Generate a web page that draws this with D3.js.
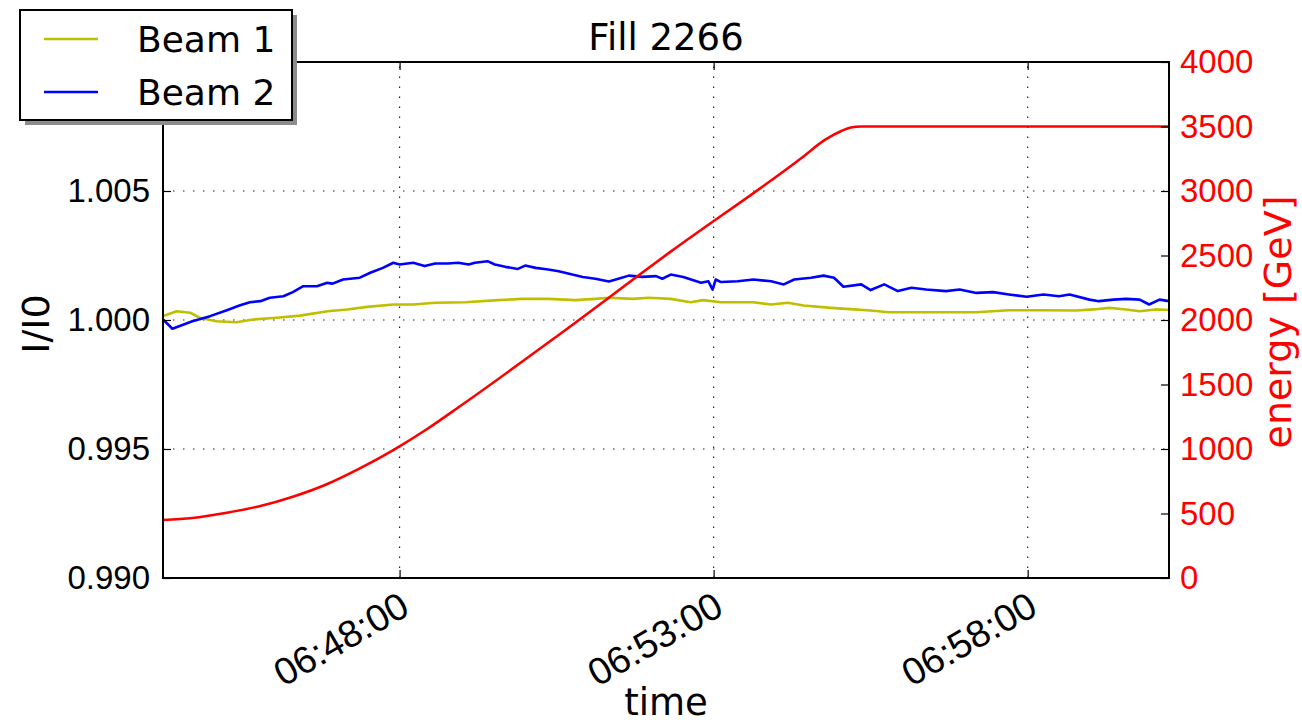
<!DOCTYPE html>
<html>
<head>
<meta charset="utf-8">
<script src="https://cdn.jsdelivr.net/npm/d3@7"></script>
<style>
  html, body { margin: 0; padding: 0; background: #fff; }
  svg { display: block; font-family: "DejaVu Sans", sans-serif; }
</style>
</head>
<body>
<svg id="chart" width="1302" height="725"></svg>
<script>
// ---- data ----
const title = "Fill 2266";
const timeDomain = ["06:44:14", "07:00:15"];
const timeTicks = ["06:48:00", "06:53:00", "06:58:00"];
const ratioTicks = [0.990, 0.995, 1.000, 1.005, 1.010];
const energyTicks = [0, 500, 1000, 1500, 2000, 2500, 3000, 3500, 4000];

const beam1Time = ["06:44:14","06:44:27","06:44:40","06:44:49","06:45:05","06:45:24","06:45:40","06:46:03","06:46:25","06:46:51","06:47:10","06:47:29","06:47:54","06:48:13","06:48:34","06:49:03","06:49:34","06:49:57","06:50:22","06:50:48","06:51:07","06:51:20","06:51:43","06:51:58","06:52:19","06:52:38","06:52:50","06:53:07","06:53:38","06:53:55","06:54:11","06:54:26","06:54:52","06:55:14","06:55:30","06:55:47","06:56:23","06:56:55","06:57:11","06:57:42","06:58:15","06:58:46","06:59:03","06:59:18","06:59:34","06:59:47","07:00:02","07:00:15"];
const beam1Ratio = [1.00015,1.00034,1.00028,1.00009,0.99995,0.99991,1.00002,1.00009,1.00017,1.00034,1.00041,1.00051,1.00060,1.00060,1.00067,1.00069,1.00077,1.00082,1.00082,1.00077,1.00082,1.00086,1.00082,1.00086,1.00082,1.00069,1.00077,1.00069,1.00069,1.00060,1.00067,1.00056,1.00047,1.00041,1.00037,1.00030,1.00030,1.00030,1.00030,1.00038,1.00038,1.00037,1.00041,1.00047,1.00041,1.00034,1.00041,1.00039];

const beam2Time = ["06:44:14","06:44:23","06:44:42","06:44:59","06:45:15","06:45:27","06:45:37","06:45:47","06:45:56","06:46:09","06:46:18","06:46:28","06:46:41","06:46:51","06:46:56","06:47:06","06:47:22","06:47:32","06:47:44","06:47:54","06:48:00","06:48:13","06:48:24","06:48:34","06:48:46","06:48:56","06:49:06","06:49:12","06:49:24","06:49:31","06:49:41","06:49:53","06:50:00","06:50:10","06:50:22","06:50:32","06:50:45","06:50:55","06:51:07","06:51:20","06:51:29","06:51:39","06:51:52","06:52:05","06:52:11","06:52:19","06:52:31","06:52:48","06:52:55","06:52:59","06:53:02","06:53:07","06:53:23","06:53:38","06:53:55","06:54:07","06:54:17","06:54:33","06:54:45","06:54:55","06:55:04","06:55:21","06:55:30","06:55:43","06:55:56","06:56:09","06:56:23","06:56:42","06:56:55","06:57:11","06:57:27","06:57:42","06:57:59","06:58:15","06:58:30","06:58:40","06:58:59","06:59:08","06:59:22","06:59:34","06:59:47","06:59:56","07:00:06","07:00:15"];
const beam2Ratio = [1.00002,0.99966,0.99995,1.00015,1.00038,1.00056,1.00069,1.00073,1.00086,1.00092,1.00108,1.00131,1.00131,1.00144,1.00141,1.00157,1.00164,1.00183,1.00202,1.00222,1.00215,1.00222,1.00209,1.00219,1.00219,1.00222,1.00215,1.00222,1.00228,1.00215,1.00206,1.00198,1.00211,1.00202,1.00196,1.00189,1.00176,1.00167,1.00160,1.00149,1.00160,1.00172,1.00167,1.00170,1.00160,1.00176,1.00167,1.00144,1.00150,1.00118,1.00157,1.00147,1.00150,1.00157,1.00150,1.00138,1.00157,1.00164,1.00172,1.00164,1.00129,1.00138,1.00116,1.00138,1.00112,1.00125,1.00118,1.00112,1.00118,1.00105,1.00108,1.00099,1.00090,1.00099,1.00092,1.00099,1.00079,1.00073,1.00079,1.00082,1.00079,1.00060,1.00079,1.00073];

const energyTime = ["06:44:14","06:44:42","06:45:15","06:45:47","06:46:18","06:46:51","06:47:22","06:47:54","06:48:26","06:48:58","06:50:32","06:52:19","06:54:23","06:54:47","06:55:02","06:55:11","06:55:21","07:00:15"];
const energyGeV = [450,465,506,558,630,729,850,992,1153,1333,1884,2530,3250,3400,3465,3492,3500,3500];

const seriesNames = ["Beam 1", "Beam 2"];
const seriesColors = ["#bfbf00", "#0000ff"];
const energyColor = "#ff0000";

// ---- layout ----
const svg = d3.select("#chart");
const margin = { left: 163, right: 1169, top: 62, bottom: 578 };
const parseT = d3.timeParse("%H:%M:%S");

const x = d3.scaleTime()
  .domain(timeDomain.map(parseT))
  .range([margin.left, margin.right]);
const yL = d3.scaleLinear().domain([0.990, 1.010]).range([margin.bottom, margin.top]);
const yR = d3.scaleLinear().domain([0, 4000]).range([margin.bottom, margin.top]);

const W = margin.right - margin.left, H = margin.bottom - margin.top;

// dotted grid
const grid = svg.append("g").attr("stroke", "#222").attr("stroke-width", 1.2)
  .attr("stroke-dasharray", "1.5,8.5").attr("fill", "none");
timeTicks.map(parseT).forEach(t => {
  grid.append("line").attr("x1", x(t)).attr("x2", x(t))
    .attr("y1", margin.bottom).attr("y2", margin.top);
});
ratioTicks.slice(1, -1).forEach(v => {
  grid.append("line").attr("x1", margin.left).attr("x2", margin.right)
    .attr("y1", yL(v)).attr("y2", yL(v));
});

// clip to axes
svg.append("clipPath").attr("id", "plotclip").append("rect")
  .attr("x", margin.left).attr("y", margin.top).attr("width", W).attr("height", H);

const plot = svg.append("g").attr("clip-path", "url(#plotclip)");
const lineL = d3.line().x(d => x(d[0])).y(d => yL(d[1]));

const beams = [
  d3.zip(beam1Time.map(parseT), beam1Ratio),
  d3.zip(beam2Time.map(parseT), beam2Ratio)
];
beams.forEach((pts, i) => {
  plot.append("path").datum(pts).attr("d", lineL)
    .attr("fill", "none").attr("stroke", seriesColors[i])
    .attr("stroke-width", 2.6).attr("stroke-linejoin", "round");
});

const energyPts = d3.zip(energyTime.map(parseT), energyGeV);
plot.append("path").datum(energyPts)
  .attr("d", d3.line().x(d => x(d[0])).y(d => yR(d[1])).curve(d3.curveMonotoneX))
  .attr("fill", "none").attr("stroke", energyColor).attr("stroke-width", 2.6);

// axes
const tickLen = 8;
const fmt = d3.timeFormat("%H:%M:%S");

const xBottom = svg.append("g").attr("transform", `translate(0,${margin.bottom})`)
  .call(d3.axisBottom(x).tickValues(timeTicks.map(parseT)).tickSize(-tickLen).tickFormat(fmt));
xBottom.select(".domain").remove();
xBottom.selectAll(".tick line").attr("stroke", "#000").attr("stroke-width", 1.2);
xBottom.selectAll(".tick text")
  .attr("font-size", 38).attr("fill", "#000")
  .attr("text-anchor", "end")
  .attr("transform", "translate(-2,12) rotate(-30)")
  .attr("dy", "0.71em").attr("y", 0).attr("x", 0);

const xTop = svg.append("g").attr("transform", `translate(0,${margin.top})`)
  .call(d3.axisTop(x).tickValues(timeTicks.map(parseT)).tickSize(-tickLen).tickFormat(""));
xTop.select(".domain").remove();
xTop.selectAll(".tick line").attr("stroke", "#000").attr("stroke-width", 1.2);

const yLeft = svg.append("g").attr("transform", `translate(${margin.left},0)`)
  .call(d3.axisLeft(yL).tickValues(ratioTicks).tickSize(-tickLen).tickPadding(13).tickFormat(d3.format(".3f")));
yLeft.select(".domain").remove();
yLeft.selectAll(".tick line").attr("stroke", "#000").attr("stroke-width", 1.2);
yLeft.selectAll(".tick text").attr("font-size", 33).attr("fill", "#000");

const yRight = svg.append("g").attr("transform", `translate(${margin.right},0)`)
  .call(d3.axisRight(yR).tickValues(energyTicks).tickSize(-tickLen).tickPadding(11).tickFormat(d3.format("d")));
yRight.select(".domain").remove();
yRight.selectAll(".tick line").attr("stroke", "#000").attr("stroke-width", 1.2);
yRight.selectAll(".tick text").attr("font-size", 33).attr("fill", energyColor);

// frame
svg.append("rect").attr("x", margin.left).attr("y", margin.top)
  .attr("width", W).attr("height", H)
  .attr("fill", "none").attr("stroke", "#000").attr("stroke-width", 2);

// titles
svg.append("text").attr("x", (margin.left + margin.right) / 2).attr("y", 50)
  .attr("text-anchor", "middle").attr("font-size", 37).attr("fill", "#000").text(title);
svg.append("text").attr("x", (margin.left + margin.right) / 2).attr("y", 715)
  .attr("text-anchor", "middle").attr("font-size", 37).attr("fill", "#000").text("time");
svg.append("text").attr("transform", `translate(49,${(margin.top + margin.bottom) / 2 + 4}) rotate(-90)`)
  .attr("text-anchor", "middle").attr("font-size", 38).attr("fill", "#000").text("I/I0");
svg.append("text").attr("transform", `translate(1291,${(margin.top + margin.bottom) / 2 + 2}) rotate(-90)`)
  .attr("text-anchor", "middle").attr("font-size", 38).attr("fill", energyColor).text("energy [GeV]");

// legend with drop shadow
const lg = svg.append("g");
lg.append("rect").attr("x", 25).attr("y", 15).attr("width", 272).attr("height", 110).attr("fill", "#8c8c8c");
lg.append("rect").attr("x", 20).attr("y", 10).attr("width", 272).attr("height", 110)
  .attr("fill", "#fff").attr("stroke", "#000").attr("stroke-width", 2);
seriesNames.forEach((name, i) => {
  const yy = 39 + i * 53;
  lg.append("line").attr("x1", 44).attr("x2", 98).attr("y1", yy).attr("y2", yy)
    .attr("stroke", seriesColors[i]).attr("stroke-width", 2.4);
  lg.append("text").attr("x", 137).attr("y", yy + 13).attr("font-size", 36)
    .attr("fill", "#000").text(name);
});
</script>
</body>
</html>
